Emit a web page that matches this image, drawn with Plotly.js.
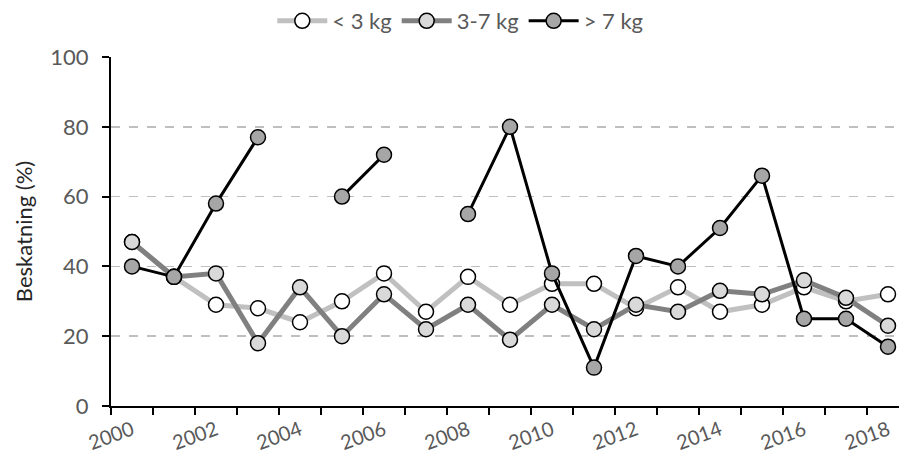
<!DOCTYPE html>
<html>
<head>
<meta charset="utf-8">
<script src="https://cdn.plot.ly/plotly-3.0.1.min.js"></script>
<style>html,body{margin:0;padding:0;background:#fff;}</style>
</head>
<body>
<div id="chart" style="width:899px;height:459px;"></div>
<script>
const years = [2000,2001,2002,2003,2004,2005,2006,2007,2008,2009,2010,2011,2012,2013,2014,2015,2016,2017,2018];
const labelYears = [2000,2002,2004,2006,2008,2010,2012,2014,2016,2018];
const seriesNames = ['< 3 kg', '3-7 kg', '> 7 kg'];
const small = [47,37,29,28,24,30,38,27,37,29,35,35,28,34,27,29,34,30,32];
const mid   = [47,37,38,18,34,20,32,22,29,19,29,22,29,27,33,32,36,31,23];
const large = [40,37,58,77,null,60,72,null,55,80,38,11,43,40,51,66,25,25,17];
const yTicks = [0,20,40,60,80,100];

const FONT = 'Lato, "Open Sans", sans-serif';
const FS = 22;
const boundaries = years.map(y => y - 0.5).concat([years[years.length-1] + 0.5]);

const traces = [
  {x: years, y: small, name: seriesNames[0], type: 'scatter', mode: 'lines+markers',
   line: {color: '#c0c0c0', width: 5}, cliponaxis: false,
   marker: {size: 15, color: '#ffffff', line: {color: '#000', width: 1.5}}},
  {x: years, y: mid, name: seriesNames[1], type: 'scatter', mode: 'lines+markers',
   line: {color: '#808080', width: 5}, cliponaxis: false,
   marker: {size: 15, color: '#d9d9d9', line: {color: '#000', width: 1.5}}},
  {x: years, y: large, name: seriesNames[2], type: 'scatter', mode: 'lines+markers',
   connectgaps: false, cliponaxis: false,
   line: {color: '#000000', width: 3},
   marker: {size: 15, color: '#a6a6a6', line: {color: '#000', width: 1.5}}}
];

const layout = {
  width: 899, height: 459,
  margin: {l: 111, r: 0, t: 57, b: 53},
  paper_bgcolor: '#fff', plot_bgcolor: '#fff',
  font: {family: FONT, size: FS, color: '#595959'},
  showlegend: true,
  legend: {orientation: 'h', xref: 'container', yref: 'container',
           x: 0.512, xanchor: 'center', y: 1.0, yanchor: 'top',
           font: {family: FONT, size: FS, color: '#595959'},
           itemwidth: 50, tracegroupgap: 0},
  xaxis: {
    range: [1999.5, 1999.5 + 788/42],
    tickmode: 'array', tickvals: labelYears, ticktext: labelYears.map(String),
    ticks: '', tickangle: -20, ticklabelstandoff: 3,
    showline: true, linecolor: '#000', linewidth: 2,
    showgrid: false, zeroline: false,
    tickfont: {family: FONT, size: 20, color: '#595959'},
    minor: {tickmode: 'array', tickvals: boundaries, ticks: 'outside', ticklen: 7, tickwidth: 2, tickcolor: '#000', showgrid: false}
  },
  yaxis: {
    range: [0, 100], tickmode: 'array', tickvals: yTicks,
    ticks: 'outside', ticklen: 7, tickwidth: 2, tickcolor: '#000',
    showline: true, linecolor: '#000', linewidth: 2,
    showgrid: true, gridcolor: '#bfbfbf', gridwidth: 1.5, griddash: 'dash',
    zeroline: false, ticklabelstandoff: 9,
    tickfont: {family: FONT, size: FS, color: '#595959'},
    title: {text: 'Beskatning (%)', font: {family: FONT, size: FS, color: '#262626'}, standoff: 12}
  }
};

Plotly.newPlot('chart', traces, layout, {displayModeBar: false, staticPlot: true});
</script>
</body>
</html>
